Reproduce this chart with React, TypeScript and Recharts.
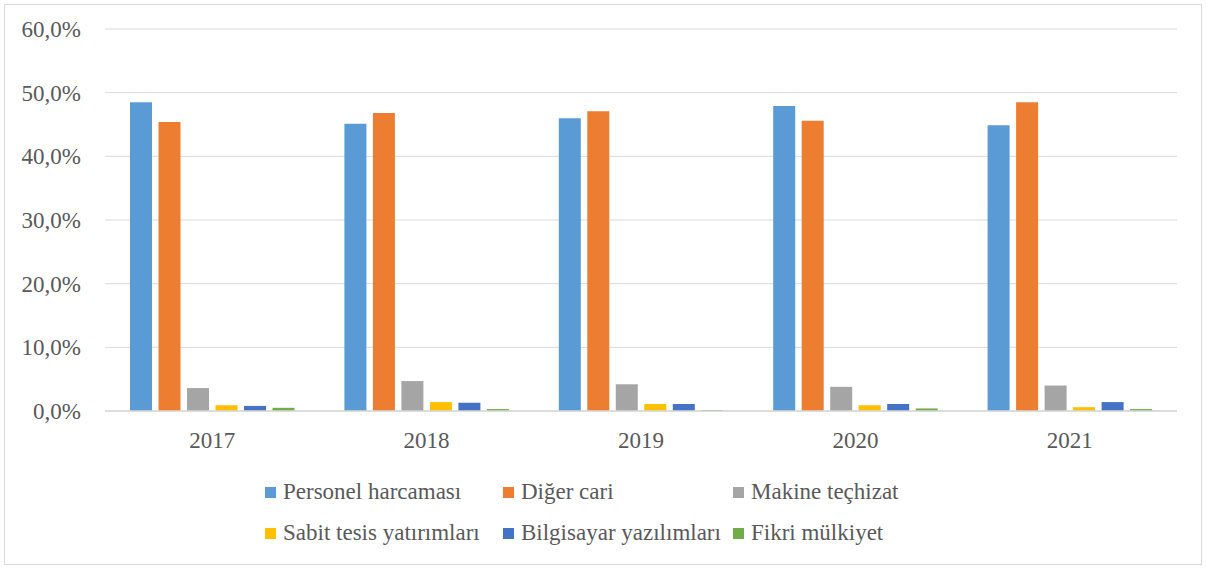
import React from 'react';
import { BarChart, Bar, XAxis, YAxis, CartesianGrid, Legend } from 'recharts';

const years = ['2017', '2018', '2019', '2020', '2021'];
const personel = [48.5, 45.1, 46.0, 47.9, 44.9];
const digerCari = [45.4, 46.8, 47.1, 45.6, 48.5];
const makine = [3.6, 4.7, 4.2, 3.8, 4.0];
const sabitTesis = [0.9, 1.4, 1.1, 0.9, 0.6];
const bilgisayar = [0.8, 1.3, 1.1, 1.1, 1.4];
const fikri = [0.5, 0.3, 0.15, 0.4, 0.3];
const yTicks = [0, 10, 20, 30, 40, 50, 60];

const seriesNames = [
  'Personel harcaması',
  'Diğer cari',
  'Makine teçhizat',
  'Sabit tesis yatırımları',
  'Bilgisayar yazılımları',
  'Fikri mülkiyet',
];
const seriesKeys = ['personel', 'diger', 'makine', 'sabit', 'bilgisayar', 'fikri'];
const colors = ['#5B9BD5', '#ED7D31', '#A5A5A5', '#FFC000', '#4472C4', '#70AD47'];

const data = years.map((y, i) => ({
  year: y,
  personel: personel[i],
  diger: digerCari[i],
  makine: makine[i],
  sabit: sabitTesis[i],
  bilgisayar: bilgisayar[i],
  fikri: fikri[i],
}));

const FONT = 'Liberation Serif, Times New Roman, serif';
const FS = 23;
const colX = [260, 498, 728];
const rowY = [37, 78];

const LegendContent = () => (
  <div style={{ position: 'relative', width: '100%', height: 90 }}>
    {seriesNames.map((name, i) => (
      <div
        key={name}
        style={{
          position: 'absolute',
          left: colX[i % 3],
          top: rowY[Math.floor(i / 3)],
          height: 28,
          display: 'flex',
          alignItems: 'center',
          whiteSpace: 'nowrap',
        }}
      >
        <span style={{ display: 'inline-block', width: 11, height: 11, background: colors[i], marginRight: 7 }} />
        <span style={{ fontFamily: FONT, fontSize: FS, color: '#595959', lineHeight: '28px' }}>{name}</span>
      </div>
    ))}
  </div>
);

const YTick = (props: any) => {
  const { x, y, payload } = props;
  return (
    <text x={x} y={y} dy="0.35em" textAnchor="end" fill="#595959" fontSize={FS} fontFamily={FONT}>
      {Number(payload.value).toFixed(1).replace('.', ',') + '%'}
    </text>
  );
};

const XTick = (props: any) => {
  const { x, y, payload } = props;
  return (
    <text x={x} y={y} dy="0.71em" textAnchor="middle" fill="#595959" fontSize={FS} fontFamily={FONT}>
      {payload.value}
    </text>
  );
};

export default function App() {
  return (
    <div
      style={{
        position: 'absolute',
        left: 4,
        top: 4,
        width: 1196,
        height: 559,
        border: '1px solid #d9d9d9',
        background: '#fff',
      }}
    >
      <BarChart
        width={1196}
        height={559}
        data={data}
        margin={{ top: 24, right: 24, bottom: 33, left: 0 }}
        barSize={22}
        barGap={6.5}
      >
        <CartesianGrid vertical={false} stroke="#d9d9d9" strokeWidth={1} />
        <XAxis
          dataKey="year"
          height={30}
          tickLine={false}
          tickSize={0}
          tickMargin={21}
          axisLine={{ stroke: '#d9d9d9', strokeWidth: 1.5 }}
          tick={<XTick />}
        />
        <YAxis
          width={100}
          domain={[0, 60]}
          ticks={yTicks}
          interval={0}
          axisLine={false}
          tickLine={false}
          tickSize={0}
          tickMargin={24}
          tick={<YTick />}
        />
        <Legend verticalAlign="bottom" height={90} content={<LegendContent />} />
        {seriesKeys.map((k, i) => (
          <Bar key={k} dataKey={k} name={seriesNames[i]} fill={colors[i]} isAnimationActive={false} />
        ))}
      </BarChart>
    </div>
  );
}
